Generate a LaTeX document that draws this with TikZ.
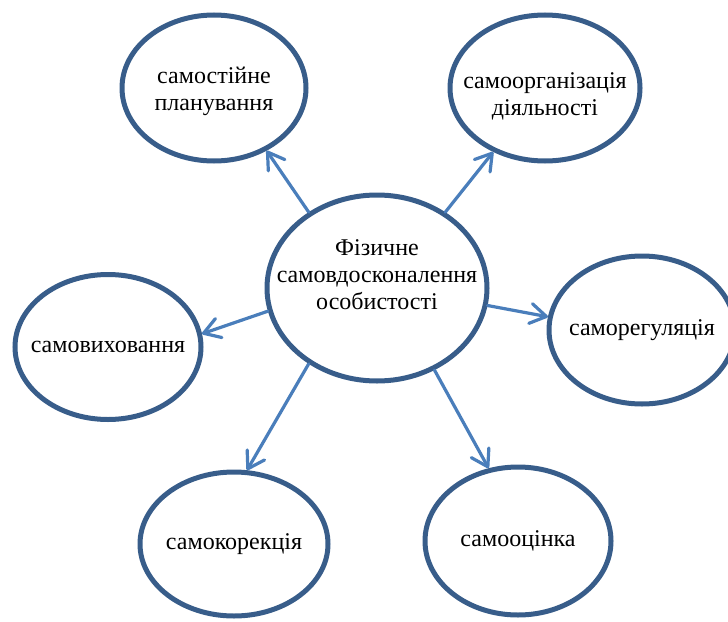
\documentclass[tikz,border=0pt]{standalone}
\usepackage{fontspec}
\setmainfont{Liberation Serif}
\usetikzlibrary{shapes.geometric,arrows.meta}
\definecolor{rim}{HTML}{385D8A}
\definecolor{linkblue}{HTML}{4A7EBB}
\begin{document}
\begin{tikzpicture}[x=0.5pt,y=-0.5pt,
  bubble/.style={ellipse, draw=rim, line width=2.5pt, inner sep=0pt},
  caption/.style={font=\fontsize{12pt}{13.5pt}\selectfont, align=center, inner sep=0pt},
  link/.style={draw=linkblue, line width=1.6pt, line cap=round,
    -{Straight Barb[length=8pt,width=10pt,line cap=round,line join=round]}}]
\useasboundingbox (0,0) rectangle (728,621);
\clip (0,0) rectangle (728,621);

% ellipses
\node[bubble, minimum width=110pt, minimum height=93pt] (c)  at (377,288) {};
\node[bubble, minimum width=92pt,  minimum height=73pt] (tl) at (214,88)  {};
\node[bubble, minimum width=95pt,  minimum height=73pt] (tr) at (545,88)  {};
\node[bubble, minimum width=93pt,  minimum height=74pt] (r)  at (642,330) {};
\node[bubble, minimum width=93pt,  minimum height=72.5pt] (l) at (108,347) {};
\node[bubble, minimum width=94pt,  minimum height=72pt] (bl) at (234,544) {};
\node[bubble, minimum width=93pt,  minimum height=74pt] (br) at (518,541) {};

% texts
\node[caption, yshift=6.5pt] (ct)  at (c)  {Фізичне\\самовдосконалення\\особистості};
\node[caption, yshift=-1.5pt] (tlt) at (tl) {самостійне\\планування};
\node[caption, yshift=-4pt] (trt) at (tr) {самоорганізація\\діяльності};
\node[caption] (rt)  at (r)  {саморегуляція};
\node[caption] (lt)  at (l)  {самовиховання};
\node[caption] (blt) at (bl) {самокорекція};
\node[caption] (brt) at (br) {самооцінка};

% arrows
\draw[link] (c.132.6) -- (tl.-50.3);
\draw[link] (c.48.1)  -- (tr.231.6);
\draw[link] (c.-9.2)  -- (r.172.8);
\draw[link] (c.192.1) -- (l.8.4);
\draw[link] (c.228.3) -- (bl.80);
\draw[link] (c.-55.3) -- (br.112.9);
\end{tikzpicture}
\end{document}
